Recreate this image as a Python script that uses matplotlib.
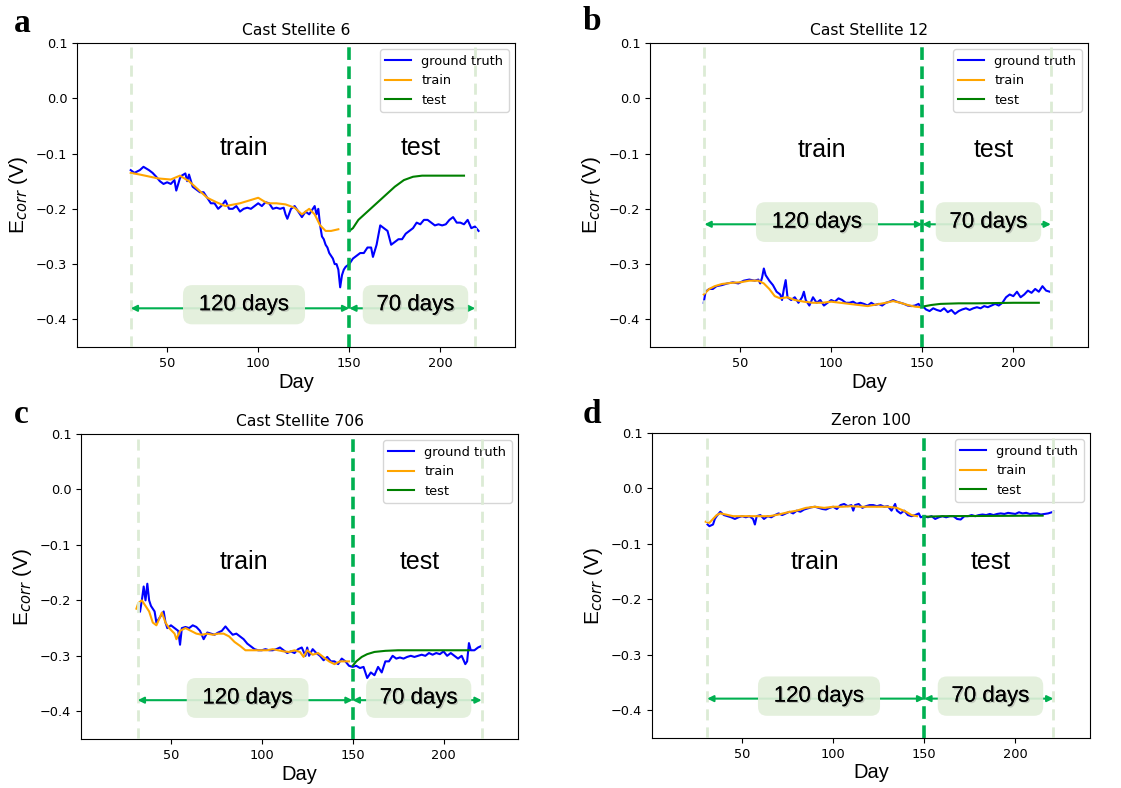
import numpy as np
import matplotlib
matplotlib.use('Agg')
import matplotlib.pyplot as plt
from matplotlib.patches import FancyBboxPatch
import matplotlib.patheffects as pe

# ---------------- data ----------------
titles = ['Cast Stellite 6', 'Cast Stellite 12', 'Cast Stellite 706', 'Zeron 100']
panel_letters = ['a', 'b', 'c', 'd']

# a : Cast Stellite 6
gt_days_a = [30, 32, 35, 37, 40, 42, 44, 46, 48, 50, 52, 54, 55, 57, 58, 60, 61, 62, 64, 66,
             68, 70, 72, 74, 76, 78, 80, 82, 84, 86, 88, 90, 92, 94, 96, 98, 100, 102, 104, 106,
             108, 110, 112, 114, 115, 116, 118, 120, 122, 124, 126, 128, 130, 131, 132, 133, 134, 135, 136, 137,
             138, 139, 140, 141, 142, 143, 144, 145, 146, 147, 148, 150, 151, 152, 154, 156, 158, 160, 162, 163,
             165, 167, 169, 171, 173, 175, 177, 179, 181, 183, 185, 187, 189, 191, 193, 195, 197, 199, 201, 203,
             205, 207, 209, 211, 213, 215, 217, 219, 221]
gt_vals_a = [-0.13, -0.135, -0.13, -0.124, -0.13, -0.135, -0.142, -0.15, -0.155, -0.152,
             -0.155, -0.148, -0.167, -0.145, -0.14, -0.136, -0.15, -0.138, -0.16, -0.165,
             -0.17, -0.17, -0.18, -0.19, -0.19, -0.2, -0.194, -0.185, -0.2, -0.2,
             -0.195, -0.205, -0.2, -0.198, -0.2, -0.195, -0.19, -0.195, -0.188, -0.19,
             -0.2, -0.198, -0.2, -0.198, -0.21, -0.218, -0.2, -0.195, -0.205, -0.215,
             -0.205, -0.21, -0.2, -0.195, -0.21, -0.2, -0.23, -0.25, -0.255, -0.265,
             -0.27, -0.28, -0.285, -0.29, -0.3, -0.3, -0.31, -0.342, -0.32, -0.31,
             -0.305, -0.3, -0.295, -0.29, -0.285, -0.28, -0.28, -0.27, -0.27, -0.287,
             -0.265, -0.23, -0.235, -0.24, -0.265, -0.26, -0.255, -0.255, -0.245, -0.24,
             -0.235, -0.225, -0.228, -0.22, -0.22, -0.225, -0.23, -0.228, -0.23, -0.228,
             -0.22, -0.215, -0.225, -0.225, -0.228, -0.22, -0.235, -0.232, -0.24]
tr_days_a = [30, 35, 45, 52, 57, 62, 67, 72, 77, 82, 90, 95, 100, 105, 110, 115, 120, 124, 128, 131,
             134, 137, 140, 144]
tr_vals_a = [-0.135, -0.138, -0.145, -0.147, -0.14, -0.15, -0.165, -0.18, -0.188, -0.195,
             -0.19, -0.185, -0.18, -0.19, -0.19, -0.192, -0.198, -0.21, -0.2, -0.21,
             -0.23, -0.24, -0.24, -0.237]
te_days_a = [150, 152, 155, 160, 165, 170, 175, 180, 185, 190, 213]
te_vals_a = [-0.24, -0.235, -0.22, -0.205, -0.19, -0.175, -0.16, -0.148, -0.142, -0.14, -0.14]

# b : Cast Stellite 12
gt_days_b = [30, 31, 33, 35, 37, 40, 43, 46, 49, 52, 55, 58, 60, 61, 62, 63, 64, 66, 68, 70,
             72, 73, 74, 75, 76, 78, 80, 82, 84, 85, 86, 88, 90, 92, 94, 96, 98, 100, 102, 104,
             106, 108, 110, 112, 114, 116, 118, 120, 122, 124, 126, 128, 130, 132, 134, 136, 138, 140, 142, 144,
             146, 148, 149, 150, 152, 154, 156, 158, 160, 162, 164, 166, 168, 170, 172, 174, 176, 178, 180, 182,
             184, 186, 188, 190, 192, 194, 196, 198, 200, 202, 204, 206, 208, 210, 212, 214, 216, 218, 220]
gt_vals_b = [-0.37, -0.35, -0.345, -0.345, -0.34, -0.338, -0.335, -0.333, -0.335, -0.33,
             -0.328, -0.33, -0.328, -0.335, -0.325, -0.308, -0.32, -0.33, -0.338, -0.35,
             -0.355, -0.365, -0.345, -0.329, -0.36, -0.365, -0.36, -0.37, -0.36, -0.35,
             -0.365, -0.375, -0.36, -0.37, -0.365, -0.375, -0.37, -0.365, -0.368, -0.362,
             -0.365, -0.37, -0.37, -0.368, -0.372, -0.37, -0.372, -0.375, -0.37, -0.374,
             -0.372, -0.375, -0.37, -0.368, -0.365, -0.368, -0.37, -0.372, -0.375, -0.376,
             -0.375, -0.372, -0.378, -0.375, -0.382, -0.385, -0.38, -0.383, -0.385, -0.38,
             -0.387, -0.383, -0.39, -0.385, -0.382, -0.38, -0.383, -0.38, -0.378, -0.38,
             -0.376, -0.378, -0.375, -0.372, -0.375, -0.37, -0.36, -0.355, -0.358, -0.35,
             -0.36, -0.355, -0.348, -0.352, -0.345, -0.35, -0.34, -0.348, -0.35]
tr_days_b = [30, 33, 36, 40, 45, 50, 55, 60, 63, 66, 69, 72, 76, 80, 85, 90, 95, 100, 105, 110,
             115, 120, 125, 130, 134, 138, 142, 146, 149]
tr_vals_b = [-0.355, -0.345, -0.34, -0.336, -0.334, -0.333, -0.33, -0.33, -0.335, -0.345,
             -0.358, -0.362, -0.36, -0.365, -0.368, -0.37, -0.37, -0.368, -0.37, -0.372,
             -0.374, -0.376, -0.373, -0.37, -0.367, -0.37, -0.374, -0.377, -0.378]
te_days_b = [150, 155, 160, 170, 180, 200, 214]
te_vals_b = [-0.377, -0.374, -0.372, -0.371, -0.371, -0.37, -0.37]

# c : Cast Stellite 706
gt_days_c = [33, 34, 35, 36, 37, 38, 39, 40, 41, 42, 44, 45, 46, 47, 48, 50, 52, 54, 55, 56,
             58, 60, 62, 64, 66, 68, 70, 72, 74, 76, 78, 80, 82, 84, 86, 88, 90, 92, 94, 96,
             98, 100, 102, 104, 106, 108, 110, 112, 114, 116, 118, 120, 122, 124, 125, 126, 128, 130, 132, 134,
             136, 138, 140, 142, 144, 146, 148, 150, 152, 154, 156, 158, 160, 162, 164, 166, 168, 170, 172, 174,
             176, 178, 180, 182, 184, 186, 188, 190, 192, 194, 196, 198, 200, 202, 204, 206, 208, 210, 212, 213,
             214, 215, 217, 219, 221]
gt_vals_c = [-0.22, -0.2, -0.175, -0.2, -0.17, -0.2, -0.21, -0.215, -0.22, -0.24,
             -0.23, -0.225, -0.22, -0.24, -0.25, -0.245, -0.25, -0.255, -0.28, -0.25,
             -0.248, -0.25, -0.245, -0.248, -0.255, -0.27, -0.258, -0.26, -0.262, -0.258,
             -0.255, -0.247, -0.255, -0.262, -0.26, -0.265, -0.27, -0.278, -0.283, -0.288,
             -0.29, -0.29, -0.288, -0.29, -0.29, -0.288, -0.285, -0.29, -0.295, -0.292,
             -0.295, -0.288, -0.285, -0.3, -0.285, -0.3, -0.288, -0.295, -0.3, -0.308,
             -0.302, -0.31, -0.31, -0.315, -0.305, -0.31, -0.318, -0.32, -0.318, -0.322,
             -0.32, -0.34, -0.33, -0.335, -0.32, -0.33, -0.31, -0.31, -0.3, -0.305,
             -0.303, -0.305, -0.302, -0.3, -0.302, -0.3, -0.298, -0.3, -0.295, -0.298,
             -0.295, -0.297, -0.292, -0.3, -0.295, -0.3, -0.305, -0.3, -0.315, -0.31,
             -0.277, -0.29, -0.29, -0.285, -0.282]
tr_days_c = [31, 32, 34, 36, 38, 40, 42, 44, 45, 47, 49, 52, 53, 55, 58, 61, 64, 67, 70, 73,
             76, 79, 82, 85, 88, 91, 94, 97, 100, 103, 106, 109, 112, 115, 118, 121, 123, 125, 128, 131,
             133, 135, 137, 140, 143, 146, 148]
tr_vals_c = [-0.215, -0.205, -0.2, -0.21, -0.22, -0.24, -0.245, -0.23, -0.222, -0.24,
             -0.25, -0.26, -0.27, -0.255, -0.25, -0.255, -0.26, -0.262, -0.26, -0.262,
             -0.26, -0.26, -0.265, -0.275, -0.282, -0.29, -0.29, -0.29, -0.29, -0.29,
             -0.288, -0.29, -0.292, -0.293, -0.29, -0.293, -0.302, -0.29, -0.298, -0.295,
             -0.3, -0.305, -0.31, -0.315, -0.31, -0.31, -0.31]
te_days_c = [150, 152, 155, 158, 162, 168, 175, 190, 214]
te_vals_c = [-0.318, -0.31, -0.302, -0.297, -0.293, -0.291, -0.29, -0.29, -0.29]

# d : Zeron 100
gt_days_d = [31, 32, 34, 35, 36, 38, 40, 42, 44, 46, 48, 50, 52, 54, 56, 57, 58, 60, 62, 64,
             66, 68, 70, 72, 74, 76, 78, 80, 82, 84, 86, 88, 90, 92, 94, 96, 98, 100, 102, 104,
             106, 108, 110, 111, 112, 114, 116, 118, 120, 122, 124, 126, 128, 130, 132, 134, 135, 137, 139, 141,
             143, 145, 147, 148, 150, 152, 154, 156, 158, 160, 162, 164, 166, 168, 170, 172, 174, 176, 178, 180,
             182, 184, 186, 188, 190, 192, 194, 196, 198, 200, 202, 204, 206, 208, 210, 212, 214, 216, 218, 221]
gt_vals_d = [-0.065, -0.068, -0.065, -0.055, -0.05, -0.042, -0.048, -0.05, -0.052, -0.055,
             -0.052, -0.05, -0.052, -0.05, -0.055, -0.065, -0.05, -0.048, -0.055, -0.05,
             -0.052, -0.048, -0.045, -0.048, -0.045, -0.042, -0.045, -0.04, -0.042, -0.038,
             -0.036, -0.034, -0.033, -0.035, -0.037, -0.038, -0.035, -0.033, -0.037, -0.03,
             -0.028, -0.032, -0.03, -0.04, -0.03, -0.028, -0.035, -0.032, -0.03, -0.03,
             -0.032, -0.03, -0.033, -0.032, -0.04, -0.028, -0.04, -0.045, -0.04, -0.048,
             -0.05, -0.048, -0.045, -0.052, -0.05, -0.052, -0.05, -0.055, -0.052, -0.05,
             -0.052, -0.05, -0.05, -0.055, -0.056, -0.05, -0.05, -0.048, -0.05, -0.048,
             -0.047, -0.048, -0.046, -0.048, -0.046, -0.045, -0.046, -0.044, -0.045, -0.046,
             -0.043, -0.045, -0.044, -0.046, -0.045, -0.045, -0.047, -0.046, -0.045, -0.042]
tr_days_d = [30, 32, 34, 36, 38, 41, 45, 50, 55, 60, 65, 70, 75, 80, 85, 90, 95, 100, 105, 110,
             115, 120, 125, 130, 135, 140, 143, 146]
tr_vals_d = [-0.06, -0.062, -0.055, -0.048, -0.045, -0.047, -0.05, -0.05, -0.05, -0.05,
             -0.05, -0.047, -0.043, -0.04, -0.035, -0.033, -0.035, -0.033, -0.033, -0.032,
             -0.033, -0.033, -0.033, -0.033, -0.035, -0.042, -0.048, -0.05]
te_days_d = [150, 160, 215]
te_vals_d = [-0.051, -0.05, -0.049]

gt_days = [gt_days_a, gt_days_b, gt_days_c, gt_days_d]
gt_vals = [gt_vals_a, gt_vals_b, gt_vals_c, gt_vals_d]
tr_days = [tr_days_a, tr_days_b, tr_days_c, tr_days_d]
tr_vals = [tr_vals_a, tr_vals_b, tr_vals_c, tr_vals_d]
te_days = [te_days_a, te_days_b, te_days_c, te_days_d]
te_vals = [te_vals_a, te_vals_b, te_vals_c, te_vals_d]

# overlay layout per panel: split lines, arrow height, box extents, region labels
left_line = [30, 30.4, 31.7, 30.8]
right_line = [219.2, 220.6, 221, 220.9]
arrow_y = [-0.38, -0.228, -0.38, -0.379]
box_y = [(-0.409, -0.338), (-0.26, -0.188), (-0.412, -0.34), (-0.41, -0.339)]
train_xy = [(92.3, -0.09), (95, -0.094), (90, -0.13), (89.7, -0.132)]
test_xy = [(189, -0.09), (189.4, -0.094), (187, -0.13), (186.6, -0.132)]

# pixel boxes of the axes (left, top, right, bottom) in a 1121x788 picture
W, H = 1121, 788
ax_px = [(77, 43, 515, 347), (650, 43, 1088, 347), (81, 434, 518, 739), (652, 433, 1090, 738)]
letter_px = [(14, 32), (583, 30), (14, 423), (583, 423)]

fig = plt.figure(figsize=(W / 100, H / 100), dpi=100)

dark_green = '#00b050'
pale_green = '#dcebd5'
box_green = '#e2efda'

for i in range(4):
    l, t, r, b = ax_px[i]
    ax = fig.add_axes([l / W, 1 - b / H, (r - l) / W, (b - t) / H])

    ax.plot(gt_days[i], gt_vals[i], color='blue', lw=1.5, label='ground truth')
    ax.plot(tr_days[i], tr_vals[i], color='orange', lw=1.5, label='train')
    ax.plot(te_days[i], te_vals[i], color='green', lw=1.5, label='test')

    ax.set_xlim(0.5, 241)
    ax.set_ylim(-0.45, 0.1)
    ax.set_xticks([50, 100, 150, 200])
    ax.set_yticks([-0.4, -0.3, -0.2, -0.1, 0.0, 0.1])
    ax.tick_params(labelsize=9.3)
    ax.set_title(titles[i], fontsize=11.2)
    ax.set_xlabel('Day', fontsize=14.5, family='Liberation Sans', labelpad=2)
    ax.set_ylabel('E$_{corr}$ (V)', fontsize=15, family='Liberation Sans')
    leg = ax.legend(loc='upper right', fontsize=9.3)
    leg.set_zorder(5)

    # overlay drawn on top (split lines, arrows, boxes)
    ax.axvline(left_line[i], color=pale_green, lw=2, ls=(0, (4, 2.5)), zorder=6)
    ax.axvline(right_line[i], color=pale_green, lw=2, ls=(0, (4, 2.5)), zorder=6)
    ax.axvline(150, color=dark_green, lw=2.6, ls=(0, (3.5, 1.8)), zorder=7)

    for x0, x1 in [(left_line[i], 150), (150, right_line[i])]:
        ax.annotate('', xy=(x1, arrow_y[i]), xytext=(x0, arrow_y[i]),
                    arrowprops=dict(arrowstyle='<|-|>', color=dark_green, lw=1.5,
                                    mutation_scale=9, shrinkA=0, shrinkB=0), zorder=6)

    y0, y1 = box_y[i]
    asp = (0.55 / (b - t)) / (240.5 / (r - l))
    for (bx0, bx1, txt) in [(58.7, 125.7, '120 days'), (157.4, 215.3, '70 days')]:
        box = FancyBboxPatch((bx0, y0), bx1 - bx0, y1 - y0,
                             boxstyle='round,pad=0,rounding_size=5', mutation_aspect=asp,
                             fc=box_green, ec='none', alpha=0.9, zorder=8)
        ax.add_patch(box)
        ax.text((bx0 + bx1) / 2, (y0 + y1) / 2, txt, ha='center', va='center',
                fontsize=16, family='Liberation Sans', zorder=9,
                path_effects=[pe.withSimplePatchShadow(offset=(1, -1), shadow_rgbFace='gray', alpha=0.35),
                              pe.Normal()])

    ax.text(*train_xy[i], 'train', ha='center', va='center', fontsize=18,
            family='Liberation Sans', zorder=9)
    ax.text(*test_xy[i], 'test', ha='center', va='center', fontsize=18,
            family='Liberation Sans', zorder=9)

    lx, ly = letter_px[i]
    fig.text(lx / W, 1 - ly / H, panel_letters[i], fontsize=24, fontweight='bold',
             family='Liberation Serif', va='baseline', ha='left')

fig.savefig('out.png', dpi=100)
